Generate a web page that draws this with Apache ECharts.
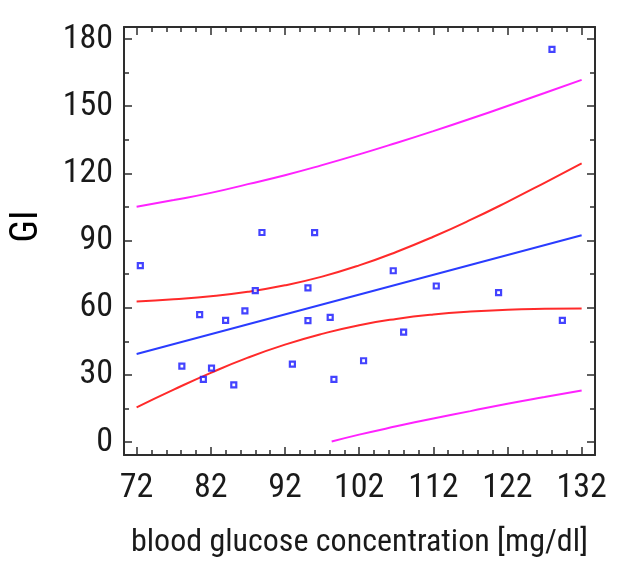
<!DOCTYPE html>
<html>
<head>
<meta charset="utf-8">
<script src="https://cdn.jsdelivr.net/npm/echarts@6/dist/echarts.min.js"></script>
<style>html,body{margin:0;padding:0;background:#fff}#c{width:620px;height:580px}</style>
</head>
<body>
<div id="c"></div>
<script>
// ---- data ----
const xTicks = [72, 82, 92, 102, 112, 122, 132];
const xMinorTicks = [74, 76, 78, 80, 84, 86, 88, 90, 94, 96, 98, 100, 104, 106, 108, 110, 114, 116, 118, 120, 124, 126, 128, 130];
const yTicks = [0, 30, 60, 90, 120, 150, 180];
const yMinorTicks = [15, 45, 75, 105, 135, 165];

const obsX = [72.5, 78.1, 80.5, 81.0, 82.1, 84.0, 85.1, 86.6, 88.0, 88.9, 93.0, 95.1, 95.1, 96.0, 98.1, 98.6, 102.6, 106.6, 108.0, 112.4, 120.8, 128.0, 129.4];
const obsY = [78.8, 33.9, 56.9, 28.0, 33.0, 54.3, 25.5, 58.6, 67.6, 93.6, 34.8, 54.2, 68.9, 93.5, 55.7, 28.0, 36.3, 76.5, 49.1, 69.7, 66.7, 175.4, 54.3];

const fitX = [72, 132];
const fitY = [39.3, 92.4];

const bandX = [72, 77, 82, 87, 92, 97, 102, 107, 112, 117, 122, 127, 132];
const confUpper = [62.8, 63.8, 65.1, 67.1, 70.0, 73.9, 78.9, 84.9, 91.7, 99.2, 107.3, 115.8, 124.5];
const confLower = [15.5, 23.4, 30.9, 37.7, 43.5, 48.3, 52.2, 55.0, 57.0, 58.3, 59.1, 59.5, 59.7];
const predUpper = [105.1, 108.1, 111.3, 115.2, 119.2, 123.7, 128.5, 133.6, 138.9, 144.4, 150.1, 155.9, 161.8];
const predLowerX = [98.3, 102, 107, 112, 117, 122, 127, 132];
const predLowerY = [0.2, 3.3, 7.0, 10.5, 13.8, 17.1, 20.1, 23.0];

const xTitle = 'blood glucose concentration [mg/dl]';
const yTitle = 'GI';

// ---- chart ----
const zip = (xs, ys) => xs.map((x, i) => [x, ys[i]]);
const FONT = '"Roboto Condensed", "Liberation Sans", Arial, sans-serif';
const TXT = '#1a1a1a';
const FRAME = '#2e2e2e';
const X_MIN = 70.3, X_MAX = 133.8, Y_MIN = -5.8, Y_MAX = 185.4;

function xAx(pos, ticks, len, withLine, withLabel) {
  return {
    type: 'value', position: pos, min: X_MIN, max: X_MAX,
    axisLine: { show: withLine, onZero: false, lineStyle: { color: FRAME, width: 2 } },
    axisTick: { show: true, inside: true, length: len, customValues: ticks, lineStyle: { color: FRAME, width: 1.5 } },
    axisLabel: withLabel ? { show: true, customValues: ticks, fontFamily: FONT, fontSize: 34, color: TXT, margin: 16 } : { show: false },
    splitLine: { show: false }
  };
}
function yAx(pos, ticks, len, withLine, withLabel) {
  return {
    type: 'value', position: pos, min: Y_MIN, max: Y_MAX,
    axisLine: { show: withLine, onZero: false, lineStyle: { color: FRAME, width: 2 } },
    axisTick: { show: true, inside: true, length: len, customValues: ticks, lineStyle: { color: FRAME, width: 1.5 } },
    axisLabel: withLabel ? { show: true, customValues: ticks, fontFamily: FONT, fontSize: 34, color: TXT, margin: 11 } : { show: false },
    splitLine: { show: false }
  };
}

const xAxes = [
  xAx('bottom', xTicks, 8, true, true),
  xAx('bottom', xMinorTicks, 5, false, false),
  xAx('top', xTicks, 8, true, false),
  xAx('top', xMinorTicks, 5, false, false)
];
Object.assign(xAxes[0], {
  name: xTitle, nameLocation: 'middle', nameGap: 72,
  nameTextStyle: { fontFamily: FONT, fontSize: 32, color: TXT }
});
const yAxes = [
  yAx('left', yTicks, 8, true, true),
  yAx('left', yMinorTicks, 5, false, false),
  yAx('right', yTicks, 8, true, false),
  yAx('right', yMinorTicks, 5, false, false)
];
Object.assign(yAxes[0], {
  name: yTitle, nameLocation: 'middle', nameGap: 78,
  nameTextStyle: { fontFamily: FONT, fontSize: 38, color: '#000', padding: [0, 0, 0, 29] }
});

function lineSeries(data, color) {
  return {
    type: 'line', data: data, xAxisIndex: 0, yAxisIndex: 0,
    showSymbol: false, symbol: 'none', smooth: 0.5,
    lineStyle: { color: color, width: 2 }, silent: true, z: 2
  };
}

const chart = echarts.init(document.getElementById('c'), null, { renderer: 'canvas' });
chart.setOption({
  animation: false,
  backgroundColor: '#ffffff',
  grid: { left: 124, top: 27, right: 25, bottom: 125, containLabel: false },
  xAxis: xAxes,
  yAxis: yAxes,
  series: [
    lineSeries(zip(bandX, predUpper), '#ff22ff'),
    lineSeries(zip(predLowerX, predLowerY), '#ff22ff'),
    lineSeries(zip(bandX, confUpper), '#ff2a2a'),
    lineSeries(zip(bandX, confLower), '#ff2a2a'),
    lineSeries(zip(fitX, fitY), '#2a3cff'),
    {
      type: 'scatter', data: zip(obsX, obsY), xAxisIndex: 0, yAxisIndex: 0,
      symbol: 'rect', symbolSize: 5,
      itemStyle: { color: '#ffffff', borderColor: '#1414ff', borderWidth: 2.2 },
      z: 5
    }
  ]
});
</script>
</body>
</html>
